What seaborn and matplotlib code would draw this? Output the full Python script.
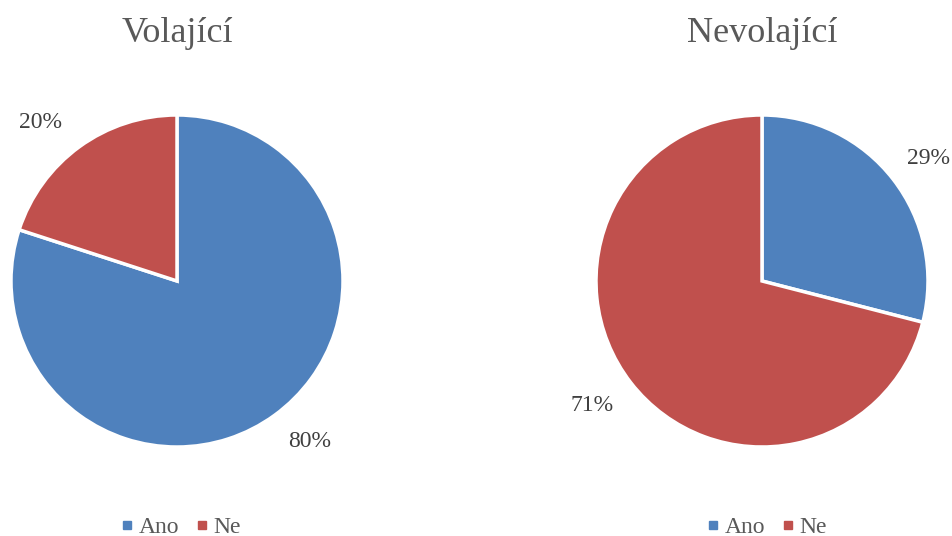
import matplotlib
matplotlib.use("Agg")
import matplotlib.pyplot as plt
from matplotlib.lines import Line2D
import seaborn as sns

categories = ["Ano", "Ne"]
titles = ["Volající", "Nevolající"]
volajici = [80, 20]
nevolajici = [29, 71]
colors = ["#4F81BD", "#C0504D"]

# label anchor points around each pie, in units of the pie radius
label_pos = [
    [(0.80, -0.965), (-0.82, 0.952)],
    [(1.006, 0.735), (-1.024, -0.747)],
]

sns.set_theme(style="white")
plt.rcParams["font.family"] = ["Liberation Serif", "DejaVu Serif"]

W, H = 952, 536
fig = plt.figure(figsize=(W / 100, H / 100), dpi=100)
fig.patch.set_facecolor("white")

R = 166
centers = [(177, 281), (762, 281)]
legend_x = [181, 767]

for (cx, cy), lx, title, values, lpos in zip(centers, legend_x, titles,
                                              [volajici, nevolajici], label_pos):
    ax = fig.add_axes([(cx - R) / W, (H - cy - R) / H, 2 * R / W, 2 * R / H])
    wedges, texts, autotexts = ax.pie(
        values,
        colors=colors,
        startangle=90,
        counterclock=False,
        autopct=lambda p: f"{p:.0f}%",
        pctdistance=1.25,
        radius=1.0,
        wedgeprops=dict(edgecolor="white", linewidth=2.5),
        textprops=dict(color="#404040", fontsize=17),
    )
    for t, (px, py) in zip(autotexts, lpos):
        t.set_position((px, py))
        t.set_ha("center")
        t.set_va("center")
    ax.set_xlim(-1, 1)
    ax.set_ylim(-1, 1)
    ax.set_aspect("equal")
    ax.axis("off")
    fig.text(cx / W, 1 - 33 / H, title, ha="center", va="center",
             fontsize=26, color="#595959")
    handles = [Line2D([0], [0], marker="s", linestyle="", markersize=6,
                      markerfacecolor=c, markeredgecolor=c) for c in colors]
    fig.legend(handles, categories, loc="center", ncol=2,
               bbox_to_anchor=(lx / W, 1 - 527 / H), frameon=False,
               fontsize=17, labelcolor="#595959", handletextpad=0.25,
               columnspacing=0.7, handlelength=0.5)

fig.savefig("out.png", dpi=100, facecolor="white")
